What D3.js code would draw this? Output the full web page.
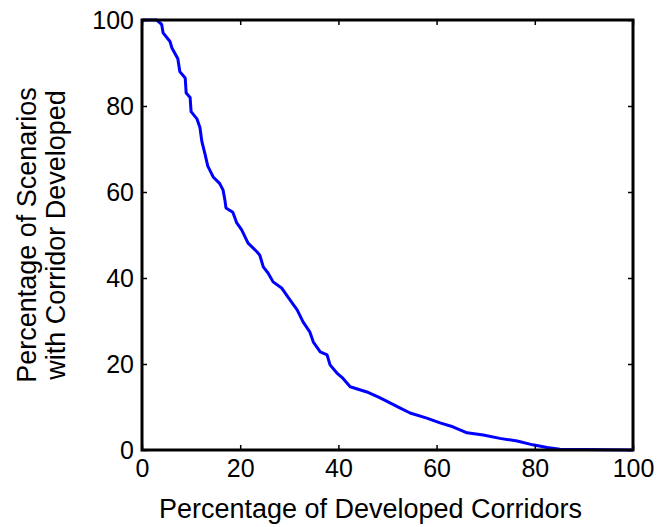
<!DOCTYPE html>
<html>
<head>
<meta charset="utf-8">
<script src="https://cdn.jsdelivr.net/npm/d3@7"></script>
<style>
    body { margin: 0; background: #fff; }
    svg { display: block; font-family: "Liberation Sans", Arial, sans-serif; }
</style>
</head>
<body>
<div id="chart"></div>
<script>
// Percentage of developed corridors (x) vs percentage of scenarios (y)
const corridorPct = [0, 3, 4, 4.3, 5.7, 6.1, 7.3, 7.7, 8.8, 9, 9.8, 10, 11.2, 11.8, 12.2, 12.8, 13.4, 14.5, 15.8, 16.5,
    16.9, 17.1, 18.5, 19.3, 20.3, 21.6, 23.4, 24, 24.7, 25.7, 26.7, 28.5, 29.7, 31.6, 32.8, 34.2, 34.9, 36.3,
    37.7, 38.3, 39.7, 40.9, 42.4, 45.8, 48.5, 50.1, 52.5, 54.6, 58, 60.7, 63.3, 66.2, 69.5, 72.9, 76.4, 79.6,
    82.5, 85.1, 100];
const scenarioPct = [100, 100, 99, 97, 95, 93.5, 91, 88, 86.5, 83, 82, 78.7, 77, 75, 71.7, 69, 66, 63.5, 62, 60.5,
    58, 56.3, 55.3, 52.8, 51.2, 48.1, 46.1, 45.3, 42.6, 41.1, 39.1, 37.6, 35.6, 32.6, 29.8, 27.4, 25.1, 22.8,
    22.1, 19.8, 17.9, 16.7, 14.7, 13.5, 12.1, 11.2, 9.8, 8.6, 7.4, 6.3, 5.4, 4.0, 3.5, 2.7, 2.1, 1.2,
    0.6, 0.2, 0];
const xTicks = [0, 20, 40, 60, 80, 100];
const yTicks = [0, 20, 40, 60, 80, 100];

const W = 657, H = 527;
const margin = { top: 20, right: 24, bottom: 77, left: 142 };
const width = W - margin.left - margin.right;
const height = H - margin.top - margin.bottom;

const svg = d3.select('#chart').append('svg')
    .attr('width', W)
    .attr('height', H);

const g = svg.append('g')
    .attr('transform', `translate(${margin.left},${margin.top})`);

const x = d3.scaleLinear().domain([0, 100]).range([0, width]);
const y = d3.scaleLinear().domain([0, 100]).range([height, 0]);

// curve
const pts = corridorPct.map((d, i) => [d, scenarioPct[i]]);
g.append('path')
    .datum(pts)
    .attr('fill', 'none')
    .attr('stroke', '#0000ff')
    .attr('stroke-width', 3)
    .attr('stroke-linejoin', 'round')
    .attr('d', d3.line().x(d => x(d[0])).y(d => y(d[1])));

// axes (ticks inward, box around)
const styleAxis = sel => {
    sel.select('.domain').remove();
    sel.selectAll('line').attr('stroke', '#000').attr('stroke-width', 1.5);
    sel.selectAll('text').style('font-size', '25px').attr('fill', '#000');
};

g.append('g')
    .attr('transform', `translate(0,${height})`)
    .call(d3.axisBottom(x).tickValues(xTicks).tickSize(-5).tickPadding(9))
    .call(styleAxis);

g.append('g')
    .call(d3.axisLeft(y).tickValues(yTicks).tickSize(-5).tickPadding(8))
    .call(styleAxis);

g.append('g')
    .call(d3.axisTop(x).tickValues(xTicks).tickSize(-5).tickFormat(''))
    .call(styleAxis);

g.append('g')
    .attr('transform', `translate(${width},0)`)
    .call(d3.axisRight(y).tickValues(yTicks).tickSize(-5).tickFormat(''))
    .call(styleAxis);

g.append('rect')
    .attr('width', width)
    .attr('height', height)
    .attr('fill', 'none')
    .attr('stroke', '#000')
    .attr('stroke-width', 3);

// axis titles
g.append('text')
    .attr('x', width / 2 - 17)
    .attr('y', height + 68)
    .attr('text-anchor', 'middle')
    .style('font-size', '27px')
    .text('Percentage of Developed Corridors');

const yt = g.append('text')
    .attr('transform', `translate(${-margin.left + 36},${height / 2}) rotate(-90)`)
    .attr('text-anchor', 'middle')
    .style('font-size', '27px');
yt.append('tspan').attr('x', 0).attr('dy', 0).text('Percentage of Scenarios');
yt.append('tspan').attr('x', 0).attr('dy', 29).text('with Corridor Developed');
</script>
</body>
</html>
